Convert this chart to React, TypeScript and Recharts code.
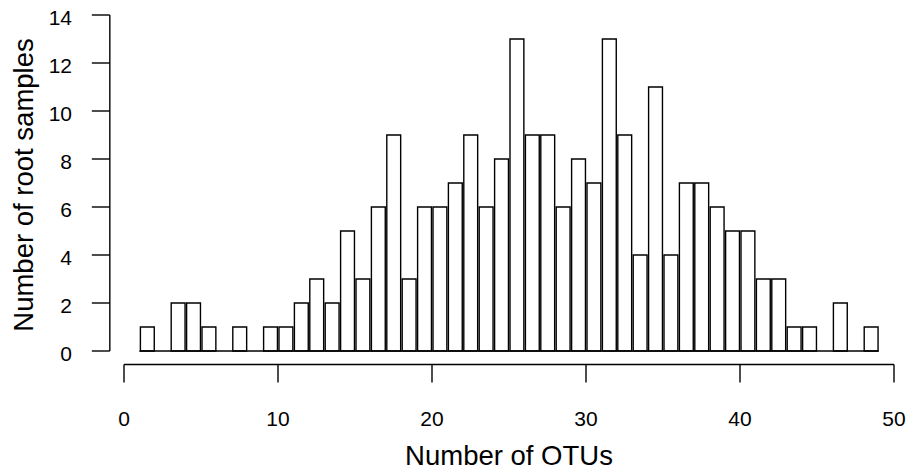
import React from "react";
import { BarChart, Bar, XAxis, YAxis, ReferenceLine } from "recharts";

// histogram of OTU counts per root sample, unit-width bins from 1 to 49
const binStarts = [
  1, 2, 3, 4, 5, 6, 7, 8, 9, 10, 11, 12, 13, 14, 15, 16, 17, 18, 19, 20, 21, 22, 23, 24,
  25, 26, 27, 28, 29, 30, 31, 32, 33, 34, 35, 36, 37, 38, 39, 40, 41, 42, 43, 44, 45, 46, 47, 48,
];
const counts = [
  1, 0, 2, 2, 1, 0, 1, 0, 1, 1, 2, 3, 2, 5, 3, 6, 9, 3, 6, 6, 7, 9, 6, 8,
  13, 9, 9, 6, 8, 7, 13, 9, 4, 11, 4, 7, 7, 6, 5, 5, 3, 3, 1, 1, 0, 2, 0, 1,
];
const xTicks = [0, 10, 20, 30, 40, 50];
const yTicks = [0, 2, 4, 6, 8, 10, 12, 14];

const data = binStarts.map((start, i) => ({ mid: start + 0.5, count: counts[i] }));

const W = 909;
const H = 471;
// plot region like R's default: 4% padding around the data range
const X_DOMAIN: [number, number] = [-0.92, 50.92];
const Y_DOMAIN: [number, number] = [-0.56, 14.56];
const PLOT_LEFT = 109.83;
const PLOT_RIGHT = 908.17;
const PLOT_TOP = 1.56;
const PLOT_BOTTOM = 364.44;
const PX_PER_UNIT = (PLOT_RIGHT - PLOT_LEFT) / (X_DOMAIN[1] - X_DOMAIN[0]);

const FONT = '"Liberation Sans", Arial, Helvetica, sans-serif';
const INK = "#000";
const LW = 1.4;

const XTick = ({ x, payload }: any) => (
  <text x={x} y={426} textAnchor="middle" fontFamily={FONT} fontSize={21} fill={INK}>
    {payload.value}
  </text>
);

const YTick = ({ y, payload }: any) => (
  <text x={72} y={y + 10} textAnchor="end" fontFamily={FONT} fontSize={21} fill={INK}>
    {payload.value}
  </text>
);

export default function App() {
  return (
    <div style={{ position: "absolute", left: 0, top: 0, background: "#fff" }}>
      <BarChart
        width={W}
        height={H}
        data={data}
        margin={{ top: PLOT_TOP, right: W - PLOT_RIGHT, left: 0, bottom: 0 }}
      >
        <XAxis
          dataKey="mid"
          type="number"
          domain={X_DOMAIN}
          ticks={xTicks}
          allowDataOverflow
          height={H - PLOT_BOTTOM}
          axisLine={false}
          tickSize={18}
          tickLine={{ stroke: INK, strokeWidth: LW }}
          tick={<XTick />}
          interval={0}
        />
        <YAxis
          type="number"
          domain={Y_DOMAIN}
          ticks={yTicks}
          allowDataOverflow
          width={PLOT_LEFT}
          axisLine={false}
          tickSize={18}
          tickLine={{ stroke: INK, strokeWidth: LW }}
          tick={<YTick />}
          interval={0}
        />
        {/* axis lines only span the first to last tick */}
        <ReferenceLine
          segment={[{ x: 0, y: Y_DOMAIN[0] }, { x: 50, y: Y_DOMAIN[0] }]}
          stroke={INK}
          strokeWidth={LW}
          ifOverflow="visible"
        />
        <ReferenceLine
          segment={[{ x: X_DOMAIN[0], y: 0 }, { x: X_DOMAIN[0], y: 14 }]}
          stroke={INK}
          strokeWidth={LW}
          ifOverflow="visible"
        />
        {/* empty bins collapse onto the baseline */}
        <ReferenceLine
          segment={[{ x: binStarts[0], y: 0 }, { x: binStarts[binStarts.length - 1] + 1, y: 0 }]}
          stroke={INK}
          strokeWidth={LW}
          ifOverflow="visible"
        />
        <Bar
          dataKey="count"
          fill="#fff"
          stroke={INK}
          strokeWidth={LW}
          barSize={PX_PER_UNIT}
          isAnimationActive={false}
        />
        <text
          x={(PLOT_LEFT + PLOT_RIGHT) / 2}
          y={465}
          textAnchor="middle"
          fontFamily={FONT}
          fontSize={27.5}
          fill={INK}
        >
          Number of OTUs
        </text>
        <text
          transform={`translate(32.5, ${(PLOT_TOP + PLOT_BOTTOM) / 2 + 2}) rotate(-90)`}
          textAnchor="middle"
          fontFamily={FONT}
          fontSize={27.5}
          fill={INK}
        >
          Number of root samples
        </text>
      </BarChart>
    </div>
  );
}
